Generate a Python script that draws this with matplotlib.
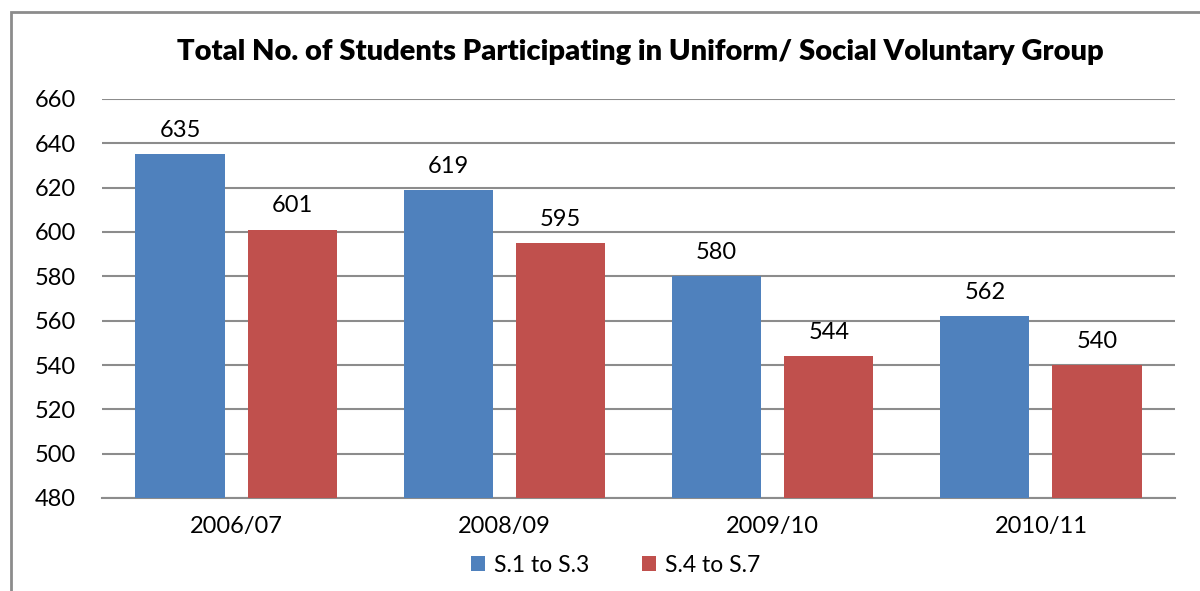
import matplotlib
matplotlib.use("Agg")
import matplotlib.pyplot as plt
from matplotlib.patches import Rectangle
import numpy as np

categories = ["2006/07", "2008/09", "2009/10", "2010/11"]
series_names = ["S.1 to S.3", "S.4 to S.7"]
s1 = [635, 619, 580, 562]
s2 = [601, 595, 544, 540]
yticks = [480, 500, 520, 540, 560, 580, 600, 620, 640, 660]

plt.rcParams['font.family'] = ['Lato', 'DejaVu Sans']

W, H = 1200, 591
fig = plt.figure(figsize=(W/100, H/100), dpi=100)
ax = fig.add_axes([102/W, 1-498/H, (1175-102)/W, (498-99)/H])

# figure border
fig.patches.append(Rectangle((11/W, -0.1), 1.2, 1+0.1-12/H, transform=fig.transFigure,
                             fill=False, edgecolor='#8c8c8c', linewidth=2))

x = np.arange(len(categories))
bw = 0.333
off = 0.209
c1, c2 = '#4F81BD', '#C0504D'
b1 = ax.bar(x - off, s1, bw, color=c1, label=series_names[0], zorder=3)
b2 = ax.bar(x + off, s2, bw, color=c2, label=series_names[1], zorder=3)
for bars, vals in ((b1, s1), (b2, s2)):
    for r, v in zip(bars, vals):
        ax.text(r.get_x() + r.get_width()/2, v + 6, str(v), ha='center', va='bottom',
                fontsize=17, color='black')

ax.set_xlim(-0.5, len(categories) - 0.5)
ax.set_ylim(480, 660)
ax.set_yticks(yticks)
ax.set_xticks(x)
ax.set_xticklabels(categories)
ax.tick_params(axis='both', length=0, labelsize=17, colors='black')
ax.tick_params(axis='y', pad=19)
ax.tick_params(axis='x', pad=13)
ax.grid(axis='y', color='#8c8c8c', linewidth=1.5, zorder=0)
for s in ('top', 'right', 'left'):
    ax.spines[s].set_visible(False)
ax.spines['bottom'].set_color('#8c8c8c')
ax.spines['bottom'].set_linewidth(1.5)

fig.text(640/W, 1-52/H, "Total No. of Students Participating in Uniform/ Social Voluntary Group",
         ha='center', va='center', fontsize=21, fontweight='heavy')

fig.legend(loc='center', bbox_to_anchor=(616/W, 1-565/H), ncol=2, frameon=False,
           fontsize=16.5, handlelength=0.6, handleheight=0.6, columnspacing=2.3, handletextpad=0.4)

fig.savefig("out.png", dpi=100)
